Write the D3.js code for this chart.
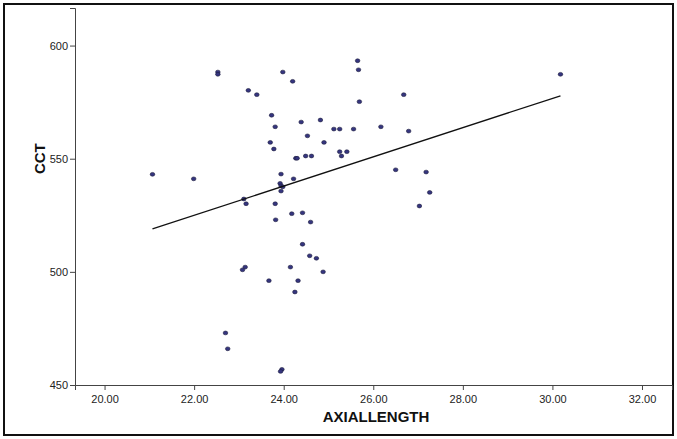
<!DOCTYPE html>
<html>
<head>
<meta charset="utf-8">
<script src="https://cdn.jsdelivr.net/npm/d3@7"></script>
<style>
  body { margin: 0; background: #fff; }
  .tick text { font-family: "Liberation Sans", Arial, sans-serif; font-size: 11px; fill: #222; }
  .axis-title { font-family: "Liberation Sans", Arial, sans-serif; font-size: 15px; font-weight: bold; fill: #111; }
</style>
</head>
<body>
<div id="chart"></div>
<script>
// valores
const axialLength = [
  25.65, 25.67, 22.53, 22.53, 23.98, 24.20, 23.21, 23.40, 25.69, 23.73,
  24.82, 24.39, 23.81, 25.12, 25.25, 25.56, 24.53, 23.70, 24.90, 23.78,
  25.25, 25.41, 25.29, 24.27, 24.30, 24.49, 24.62, 21.07, 21.99, 23.94,
  24.22, 23.92, 23.94, 23.98, 23.94, 23.11, 23.16, 23.81, 24.18, 24.42,
  23.82, 24.60, 24.42, 24.58, 24.73, 23.14, 23.08, 24.15, 24.88, 23.67,
  24.32, 24.25, 22.70, 22.75, 23.96, 23.93, 30.18, 26.68, 26.17, 26.79,
  26.50, 27.18, 27.26, 27.03
];
const cct = [
  593.3, 589.3, 588.3, 587.3, 588.3, 584.2, 580.2, 578.3, 575.2, 569.2,
  567.1, 566.2, 564.1, 563.1, 563.1, 563.1, 560.1, 557.2, 557.2, 554.3,
  553.1, 553.1, 551.2, 550.2, 550.2, 551.2, 551.2, 543.1, 541.1, 543.2,
  541.1, 539.1, 538.0, 537.6, 535.7, 532.2, 530.1, 530.1, 525.7, 526.1,
  523.0, 522.0, 512.2, 507.1, 506.0, 502.1, 500.9, 502.1, 500.0, 496.1,
  496.1, 491.1, 473.0, 466.0, 456.9, 456.0, 587.3, 578.3, 564.1, 562.2,
  545.1, 544.1, 535.1, 529.1
];
// linea de ajuste (extremos)
const fitX = [21.07, 30.18];
const fitY = [519.0, 577.8];

const xTicks = [20, 22, 24, 26, 28, 30, 32];
const yTicks = [450, 500, 550, 600];

const svgWidth = 677;
const svgHeight = 439;
const margin = { top: 8, right: 5, bottom: 54, left: 75 };
const width = svgWidth - margin.left - margin.right;
const height = svgHeight - margin.top - margin.bottom;

const root = d3.select('#chart')
  .append('svg')
  .attr('width', svgWidth)
  .attr('height', svgHeight);

// marco exterior
root.append('rect')
  .attr('x', 4).attr('y', 4)
  .attr('width', 669).attr('height', 431)
  .attr('fill', 'none')
  .attr('stroke', '#111')
  .attr('stroke-width', 2);

const svg = root.append('g')
  .attr('transform', `translate(${margin.left},${margin.top})`);

const xScale = d3.scaleLinear()
  .domain([19.34, 32.67])
  .range([0, width]);

const yScale = d3.scaleLinear()
  .domain([450, 616.6])
  .range([height, 0]);

// eje X
const xAxis = svg.append('g')
  .attr('transform', `translate(0,${height})`)
  .call(d3.axisBottom(xScale).tickValues(xTicks).tickFormat(d3.format('.2f')).tickSizeOuter(0).tickSize(5));
xAxis.select('.domain').attr('stroke', '#444');
xAxis.selectAll('.tick line').attr('stroke', '#444');
xAxis.selectAll('.tick text').attr('dy', '0.9em');

// eje Y
const yAxis = svg.append('g')
  .call(d3.axisLeft(yScale).tickValues(yTicks).tickSizeOuter(0).tickSize(5));
yAxis.select('.domain').attr('stroke', '#444');
yAxis.selectAll('.tick line').attr('stroke', '#444');
yAxis.selectAll('.tick text').attr('x', -7);

// puntos
const pts = axialLength.map((d, i) => ({ x: d, y: cct[i] }));
svg.selectAll('.pt')
  .data(pts)
  .enter().append('ellipse')
  .attr('class', 'pt')
  .attr('cx', d => xScale(d.x))
  .attr('cy', d => yScale(d.y))
  .attr('rx', 2.3)
  .attr('ry', 1.9)
  .attr('fill', '#35357f')
  .attr('stroke', '#1c1c3c')
  .attr('stroke-width', 0.6);

// linea de ajuste
svg.append('path')
  .datum(fitX.map((d, i) => [d, fitY[i]]))
  .attr('fill', 'none')
  .attr('stroke', '#111')
  .attr('stroke-width', 1.3)
  .attr('d', d3.line().x(d => xScale(d[0])).y(d => yScale(d[1])));

// titulos de ejes
svg.append('text')
  .attr('class', 'axis-title')
  .attr('x', xScale(26.06))
  .attr('y', height + 37)
  .attr('text-anchor', 'middle')
  .text('AXIALLENGTH');

svg.append('text')
  .attr('class', 'axis-title')
  .attr('transform', 'rotate(-90)')
  .attr('x', -yScale(550))
  .attr('y', -30)
  .attr('text-anchor', 'middle')
  .text('CCT');
</script>
</body>
</html>
